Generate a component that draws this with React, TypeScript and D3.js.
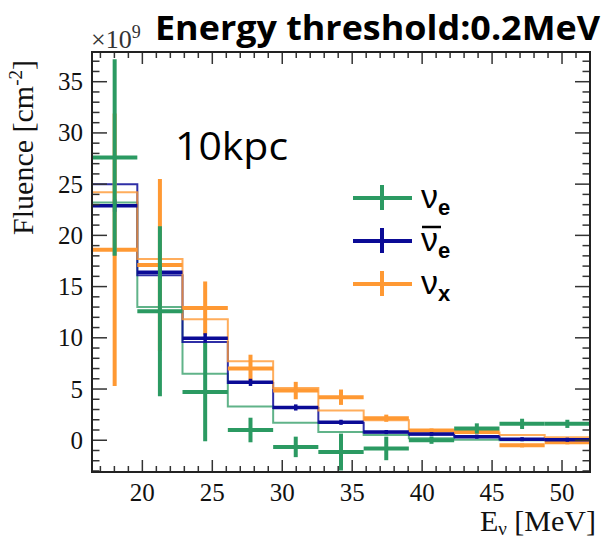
import React from 'react';
import * as d3 from 'd3';

// bin edges in MeV (11 bins)
const binEdges = [16.4, 19.64, 22.87, 26.11, 29.35, 32.58, 35.82, 39.05, 42.29, 45.53, 48.76, 52.0];

// thin histogram lines (x10^9 cm^-2)
const nueHist = [23.2, 13.0, 6.5, 3.3, 1.7, 0.8, 0.5, 0.2, 0.05, 0.0, 0.0];
const nuebarHist = [25.0, 16.1, 9.6, 5.6, 3.15, 1.7, 0.75, 0.55, 0.35, 0.1, 0.05];
const nuxHist = [24.2, 17.7, 11.8, 7.7, 5.1, 2.9, 1.95, 1.0, 0.75, 0.5, 0.3];

// data points with error bars
const nueVal = [27.6, 12.6, 4.7, 1.0, -0.65, -1.15, -0.8, 0.0, 1.15, 1.6, 1.6];
const nueErr = [9.6, 8.3, 4.8, 1.2, 1.0, 1.8, 1.15, 0.35, 0.5, 0.5, 0.4];
const nuebarVal = [22.9, 16.4, 9.95, 5.65, 3.2, 1.75, 0.8, 0.6, 0.35, 0.1, 0.05];
const nuebarErr = [0.6, 0.6, 0.5, 0.35, 0.3, 0.25, 0.2, 0.2, 0.2, 0.2, 0.2];
const nuxVal = [18.6, 17.1, 12.9, 7.0, 4.85, 4.2, 2.15, 0.95, 0.8, -0.5, -0.2];
const nuxErr = [13.3, 8.4, 2.6, 1.35, 0.85, 0.75, 0.35, 0.2, 0.2, 0.2, 0.2];

const GREEN = '#2b9a62';
const BLUE = '#0b0b96';
const ORANGE = '#ff9933';

const yMajor = [0, 5, 10, 15, 20, 25, 30, 35];
const xMajor = [20, 25, 30, 35, 40, 45, 50];

export default function App() {
  const L = 92, R = 590, T = 52, B = 472;
  const x = d3.scaleLinear().domain([16.4, 52]).range([L, R]);
  const y = d3.scaleLinear().domain([-3.1, 37.9]).range([B, T]);

  const stepLine = d3.line<[number, number]>().x(d => x(d[0])).y(d => y(d[1])).curve(d3.curveStepAfter);
  const histPath = (vals: number[]) => {
    const pts: [number, number][] = vals.map((v, i) => [binEdges[i], v]);
    pts.push([binEdges[binEdges.length - 1], vals[vals.length - 1]]);
    return stepLine(pts) || '';
  };

  const crosses = (vals: number[], errs: number[], color: string, w: number, key: string) =>
    vals.map((v, i) => {
      const x0 = x(binEdges[i]), x1 = x(binEdges[i + 1]);
      const xc = (x0 + x1) / 2;
      return (
        <g key={key + i} stroke={color} strokeWidth={w}>
          <line x1={x0} x2={x1} y1={y(v)} y2={y(v)} />
          <line x1={xc} x2={xc} y1={y(v - errs[i])} y2={y(v + errs[i])} />
        </g>
      );
    });

  const yMinor = y.ticks(40);
  const xMinor = x.ticks(40);
  const tickColor = '#333';

  const legend = [
    { c: GREEN, sub: 'e', bar: false },
    { c: BLUE, sub: 'e', bar: true },
    { c: ORANGE, sub: 'x', bar: false },
  ];

  return (
    <svg width={605} height={540} style={{ position: 'absolute', left: 0, top: 0, background: '#fff' }}>
      <defs>
        <clipPath id="frame">
          <rect x={L} y={T} width={R - L} height={B - T} />
        </clipPath>
      </defs>
      <rect x={0} y={0} width={605} height={540} fill="#fff" />

      <g clipPath="url(#frame)" fill="none">
        <path d={histPath(nueHist)} stroke={GREEN} strokeWidth={2} opacity={0.75} />
        <path d={histPath(nuebarHist)} stroke={BLUE} strokeWidth={2} opacity={0.85} />
        <path d={histPath(nuxHist)} stroke={ORANGE} strokeWidth={2} opacity={0.8} />
        {crosses(nuxVal, nuxErr, ORANGE, 4, 'x')}
        {crosses(nuebarVal, nuebarErr, BLUE, 3.5, 'b')}
        {crosses(nueVal, nueErr, GREEN, 4, 'g')}
      </g>

      {/* ticks */}
      <g stroke={tickColor} strokeWidth={1.5}>
        {yMinor.map(t => (
          <g key={'ym' + t}>
            <line x1={L} x2={L + (yMajor.includes(t) ? 15 : 7.5)} y1={y(t)} y2={y(t)} />
            <line x1={R} x2={R - (yMajor.includes(t) ? 15 : 7.5)} y1={y(t)} y2={y(t)} />
          </g>
        ))}
        {xMinor.map(t => (
          <g key={'xm' + t}>
            <line x1={x(t)} x2={x(t)} y1={B} y2={B - (xMajor.includes(t) ? 12 : 6)} />
            <line x1={x(t)} x2={x(t)} y1={T} y2={T + (xMajor.includes(t) ? 12 : 6)} />
          </g>
        ))}
      </g>
      <rect x={L} y={T} width={R - L} height={B - T} fill="none" stroke="#222" strokeWidth={2} />

      {/* tick labels */}
      <g fontFamily="'Liberation Serif', serif" fontSize={25} fill="#111">
        {yMajor.map(t => (
          <text key={'yl' + t} x={83} y={y(t)} textAnchor="end" dominantBaseline="central">{t}</text>
        ))}
        {xMajor.map(t => (
          <text key={'xl' + t} x={x(t)} y={501} textAnchor="middle">{t}</text>
        ))}
      </g>

      {/* multiplier */}
      <text x={91} y={48} fontFamily="'Liberation Serif', serif" fontSize={26} fill="#333">
        ×10<tspan fontSize={18} dy={-10}>9</tspan>
      </text>

      {/* axis titles */}
      <text x={596} y={531} textAnchor="end" fontFamily="'Liberation Serif', serif" fontSize={30} fill="#111">
        E<tspan fontSize={19} dy={4}>ν</tspan><tspan dy={-4}> [MeV]</tspan>
      </text>
      <text transform="translate(33,60) rotate(-90)" textAnchor="end" fontFamily="'Liberation Serif', serif" fontSize={30} fill="#111">
        Fluence [cm<tspan fontSize={19} dy={-11}>-2</tspan><tspan dy={11}>]</tspan>
      </text>

      {/* title and annotation */}
      <text x={155} y={40} fontFamily="'Open Sans', sans-serif" fontWeight="bold" fontSize={34} fill="#000"
        textLength={445} lengthAdjust="spacingAndGlyphs">Energy threshold:0.2MeV</text>
      <text x={175} y={160} fontFamily="'Open Sans', sans-serif" fontSize={38} fill="#000"
        textLength={113} lengthAdjust="spacingAndGlyphs">10kpc</text>

      {/* legend */}
      {legend.map((d, i) => {
        const cy = 198 + i * 43;
        return (
          <g key={'lg' + i}>
            <line x1={353} x2={412} y1={cy} y2={cy} stroke={d.c} strokeWidth={4} />
            <line x1={382} x2={382} y1={cy - 13} y2={cy + 12} stroke={d.c} strokeWidth={4} />
            <text x={421} y={cy + 10} fontFamily="'Liberation Sans', sans-serif" fontSize={34} fill="#000">
              ν<tspan fontSize={22} fontWeight="bold" dy={7}>{d.sub}</tspan>
            </text>
            {d.bar && <line x1={422} x2={441} y1={cy - 14} y2={cy - 14} stroke="#000" strokeWidth={2.5} />}
          </g>
        );
      })}
    </svg>
  );
}
